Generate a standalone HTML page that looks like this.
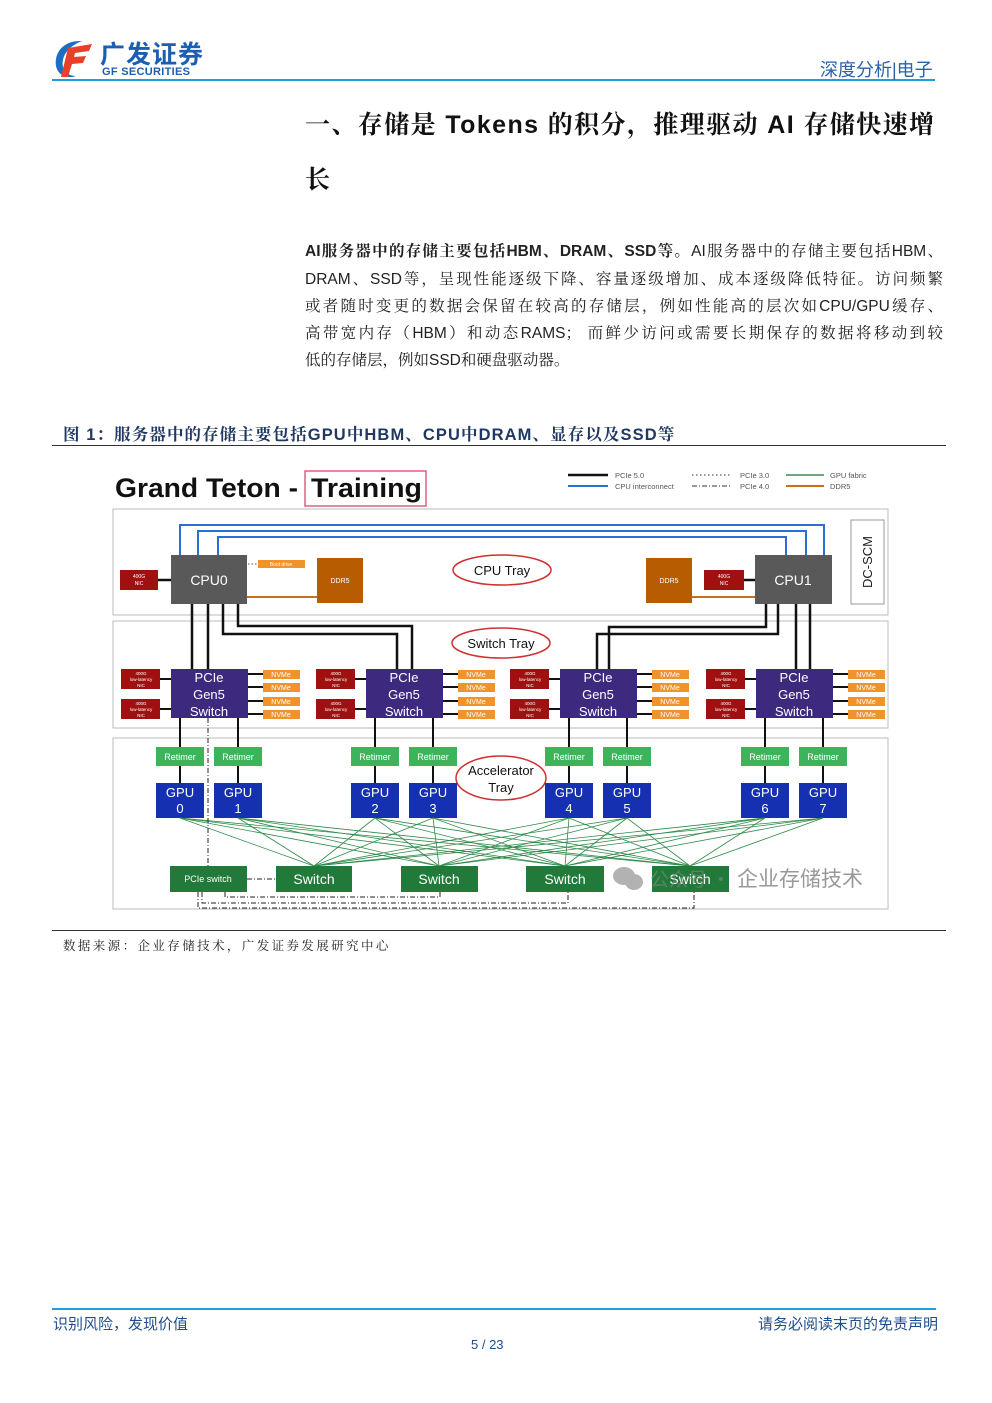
<!DOCTYPE html>
<html><head><meta charset="utf-8">
<style>
body{margin:0;background:#fff;}
#p{position:relative;width:992px;height:1403px;overflow:hidden;background:#fff;font-family:"Liberation Sans","Noto Sans CJK SC",sans-serif;}
.a{position:absolute;white-space:nowrap;}
.para{position:absolute;left:305px;width:638px;font-family:"Liberation Sans","Noto Serif CJK SC",serif;font-size:15.5px;color:#222;text-align:justify;text-align-last:justify;white-space:nowrap;line-height:20px;}
</style></head><body><div id="p">
<!-- header -->
<svg class="a" style="left:52px;top:38px" width="42" height="42" viewBox="0 0 42 42">
<path d="M30 3 C12 2 2 14 4 28 C6 38 16 41 24 38 C14 38 9 30 11 22 C13 12 22 6 30 3Z" fill="#1a6fc4"/>
<path d="M16 10 L40 6 L37 13 L23 15 L22 19 L34 18 L31 25 L20 26 L16 39 L9 39 Z" fill="#e8412a"/>
</svg>
<div class="a" style="left:100px;top:35px;font-size:25px;font-weight:bold;color:#1a5fb4;letter-spacing:1px;">广发证券</div>
<div class="a" style="left:102px;top:66px;font-size:11px;font-weight:bold;color:#1a5fb4;letter-spacing:0.3px;">GF SECURITIES</div>
<div class="a" style="left:52px;top:79px;width:883px;height:2px;background:#1ba1e2;"></div>
<div class="a" style="left:820px;top:56px;font-size:18px;color:#2a62a8;">深度分析|电子</div>

<div class="a" style="left:305px;top:105px;font-size:25px;font-weight:bold;color:#111;font-family:'Liberation Sans','Noto Serif CJK SC',serif;letter-spacing:1.4px;">一、存储是 Tokens 的积分，推理驱动 AI 存储快速增</div>
<div class="a" style="left:305px;top:160px;font-size:25px;font-weight:bold;color:#111;font-family:'Liberation Sans','Noto Serif CJK SC',serif;">长</div>

<div class="para" style="top:242px;"><b>AI服务器中的存储主要包括HBM、DRAM、SSD等。</b>AI服务器中的存储主要包括HBM、</div>
<div class="para" style="top:270px;">DRAM、SSD等，呈现性能逐级下降、容量逐级增加、成本逐级降低特征。访问频繁</div>
<div class="para" style="top:297px;">或者随时变更的数据会保留在较高的存储层，例如性能高的层次如CPU/GPU缓存、</div>
<div class="para" style="top:324px;">高带宽内存（HBM）和动态RAMS； 而鲜少访问或需要长期保存的数据将移动到较</div>
<div class="para" style="top:351px;text-align-last:left;width:auto;">低的存储层，例如SSD和硬盘驱动器。</div>

<div class="a" style="left:63px;top:421px;font-size:16.5px;font-weight:bold;color:#1f3864;font-family:'Liberation Sans','Noto Serif CJK SC',serif;letter-spacing:1.1px;">图 1：服务器中的存储主要包括GPU中HBM、CPU中DRAM、显存以及SSD等</div>
<div class="a" style="left:52px;top:445px;width:894px;height:1px;background:#333;"></div>
<div class="a" style="left:52px;top:930px;width:894px;height:1px;background:#333;"></div>
<div class="a" style="left:63px;top:936px;font-size:12.5px;color:#222;font-family:'Liberation Sans','Noto Serif CJK SC',serif;letter-spacing:2.4px;">数据来源：企业存储技术，广发证券发展研究中心</div>

<!-- diagram -->
<svg class="a" style="left:0;top:0" width="992" height="1000" font-family="Liberation Sans, sans-serif">
<text x="115" y="497" font-size="27" font-weight="bold" fill="#111" textLength="183" lengthAdjust="spacingAndGlyphs">Grand Teton -</text>
<text x="311" y="497" font-size="27" font-weight="bold" fill="#111" textLength="111" lengthAdjust="spacingAndGlyphs">Training</text>
<rect x="305" y="471" width="121" height="35" fill="none" stroke="#e06080" stroke-width="1.5"/>
<!-- legend -->
<g font-size="7.5" fill="#555">
<line x1="568" y1="475" x2="608" y2="475" stroke="#111" stroke-width="2.5"/>
<line x1="568" y1="486" x2="608" y2="486" stroke="#2a6fd6" stroke-width="2"/>
<text x="615" y="478">PCIe 5.0</text><text x="615" y="489">CPU interconnect</text>
<line x1="692" y1="475" x2="730" y2="475" stroke="#333" stroke-dasharray="1.5,2.5"/>
<line x1="692" y1="486" x2="730" y2="486" stroke="#333" stroke-dasharray="5,2,1,2"/>
<text x="740" y="478">PCIe 3.0</text><text x="740" y="489">PCIe 4.0</text>
<line x1="786" y1="475" x2="824" y2="475" stroke="#3a8a55" stroke-width="1.5"/>
<line x1="786" y1="486" x2="824" y2="486" stroke="#c8701a" stroke-width="2"/>
<text x="830" y="478">GPU fabric</text><text x="830" y="489">DDR5</text>
</g>
<!-- trays -->
<rect x="113" y="509" width="775" height="106" fill="none" stroke="#bbb"/>
<rect x="113" y="621" width="775" height="107" fill="none" stroke="#bbb"/>
<rect x="113" y="738" width="775" height="171" fill="none" stroke="#bbb"/>
<rect x="851" y="520" width="33" height="84" fill="#fff" stroke="#999"/>
<text x="872" y="562" font-size="13" fill="#222" text-anchor="middle" transform="rotate(-90 872 562)">DC-SCM</text>
<!-- blue -->
<g fill="none" stroke="#2a6fd6" stroke-width="2">
<polyline points="180,556 180,525 824,525 824,556"/>
<polyline points="198,556 198,531 806,531 806,556"/>
<polyline points="218,556 218,537 786,537 786,556"/>
</g>
<!-- black PCIe links -->
<g fill="none" stroke="#111" stroke-width="2.5">
<line x1="192" y1="604" x2="192" y2="669"/><line x1="208" y1="604" x2="208" y2="669"/>
<polyline points="223,604 223,634 397,634 397,669"/>
<polyline points="238,604 238,626 412,626 412,669"/>
<line x1="796" y1="604" x2="796" y2="669"/><line x1="810" y1="604" x2="810" y2="669"/>
<polyline points="766,604 766,627 609,627 609,669"/>
<polyline points="778,604 778,634 597,634 597,669"/>
<line x1="158" y1="580" x2="171" y2="580"/><line x1="744" y1="580" x2="755" y2="580"/>
</g>
<line x1="247" y1="597" x2="317" y2="597" stroke="#c8701a" stroke-width="2"/>
<line x1="692" y1="597" x2="755" y2="597" stroke="#c8701a" stroke-width="2"/>
<line x1="248" y1="564" x2="258" y2="564" stroke="#555" stroke-dasharray="1.5,2"/>
<rect x="171" y="555" width="76" height="49" fill="#595959"/>
<rect x="755" y="555" width="77" height="49" fill="#595959"/>
<text x="209" y="585" font-size="14" fill="#fff" text-anchor="middle">CPU0</text>
<text x="793" y="585" font-size="14" fill="#fff" text-anchor="middle">CPU1</text>
<rect x="120" y="570" width="38" height="20" fill="#a01010"/>
<rect x="704" y="570" width="40" height="20" fill="#a01010"/>
<g font-size="5" fill="#fff" text-anchor="middle"><text x="139" y="578">400G</text><text x="139" y="585">NIC</text><text x="724" y="578">400G</text><text x="724" y="585">NIC</text></g>
<rect x="258" y="560" width="47" height="8" fill="#f0932b"/>
<text x="281" y="566" font-size="5" fill="#fff" text-anchor="middle">Boot drive</text>
<rect x="317" y="558" width="46" height="45" fill="#b85c00"/>
<rect x="646" y="558" width="46" height="45" fill="#b85c00"/>
<text x="340" y="583" font-size="7" fill="#fff" text-anchor="middle">DDR5</text>
<text x="669" y="583" font-size="7" fill="#fff" text-anchor="middle">DDR5</text>
<!-- ellipses -->
<g fill="#fff" stroke="#d03030" stroke-width="1.5">
<ellipse cx="502" cy="570" rx="49" ry="15"/><ellipse cx="501" cy="643" rx="49" ry="15"/><ellipse cx="501" cy="778" rx="45" ry="22"/>
</g>
<g font-size="13" fill="#111" text-anchor="middle">
<text x="502" y="575">CPU Tray</text><text x="501" y="648">Switch Tray</text>
<text x="501" y="775">Accelerator</text><text x="501" y="792">Tray</text>
</g>
<!-- switch groups -->
<defs>
<g id="grp">
<g stroke="#111" stroke-width="2">
<line x1="-12" y1="10" x2="0" y2="10"/><line x1="-12" y1="40" x2="0" y2="40"/>
<line x1="77" y1="5" x2="92" y2="5"/><line x1="77" y1="18" x2="92" y2="18"/><line x1="77" y1="32" x2="92" y2="32"/><line x1="77" y1="45" x2="92" y2="45"/>
<line x1="9" y1="49" x2="9" y2="114"/><line x1="67" y1="49" x2="67" y2="114"/>
</g>
<rect x="-50" y="0" width="39" height="20" fill="#a01010"/><rect x="-50" y="30" width="39" height="20" fill="#a01010"/>
<g font-size="4.5" fill="#fff" text-anchor="middle">
<text x="-30" y="6">400G</text><text x="-30" y="12">low-latency</text><text x="-30" y="18">NIC</text>
<text x="-30" y="36">400G</text><text x="-30" y="42">low-latency</text><text x="-30" y="48">NIC</text></g>
<rect x="0" y="0" width="77" height="49" fill="#3d2a7e"/>
<g font-size="13" fill="#fff" text-anchor="middle"><text x="38" y="13">PCIe</text><text x="38" y="30">Gen5</text><text x="38" y="47">Switch</text></g>
<g fill="#f0932b"><rect x="92" y="1" width="37" height="9"/><rect x="92" y="14" width="37" height="9"/><rect x="92" y="28" width="37" height="9"/><rect x="92" y="41" width="37" height="9"/></g>
<g font-size="7" fill="#fff" text-anchor="middle"><text x="110" y="8">NVMe</text><text x="110" y="21">NVMe</text><text x="110" y="35">NVMe</text><text x="110" y="48">NVMe</text></g>
<rect x="-15" y="78" width="48" height="19" fill="#3cb55a"/><rect x="43" y="78" width="48" height="19" fill="#3cb55a"/>
<g font-size="9" fill="#fff" text-anchor="middle"><text x="9" y="91">Retimer</text><text x="67" y="91">Retimer</text></g>
<rect x="-15" y="114" width="48" height="35" fill="#1530b0"/><rect x="43" y="114" width="48" height="35" fill="#1530b0"/>
<g font-size="13" fill="#fff" text-anchor="middle"><text x="9" y="128">GPU</text><text x="67" y="128">GPU</text></g>
</g>
</defs>
<use href="#grp" x="171" y="669"/><use href="#grp" x="366" y="669"/><use href="#grp" x="560" y="669"/><use href="#grp" x="756" y="669"/>
<g font-size="13" fill="#fff" text-anchor="middle">
<text x="180" y="813">0</text><text x="238" y="813">1</text><text x="375" y="813">2</text><text x="433" y="813">3</text>
<text x="569" y="813">4</text><text x="627" y="813">5</text><text x="765" y="813">6</text><text x="823" y="813">7</text></g>
<!-- green fabric -->
<g stroke="#2f8a4a" stroke-width="0.8">
<line x1="180" y1="818" x2="314" y2="866"/><line x1="180" y1="818" x2="439" y2="866"/><line x1="180" y1="818" x2="565" y2="866"/><line x1="180" y1="818" x2="690" y2="866"/>
<line x1="238" y1="818" x2="314" y2="866"/><line x1="238" y1="818" x2="439" y2="866"/><line x1="238" y1="818" x2="565" y2="866"/><line x1="238" y1="818" x2="690" y2="866"/>
<line x1="375" y1="818" x2="314" y2="866"/><line x1="375" y1="818" x2="439" y2="866"/><line x1="375" y1="818" x2="565" y2="866"/><line x1="375" y1="818" x2="690" y2="866"/>
<line x1="433" y1="818" x2="314" y2="866"/><line x1="433" y1="818" x2="439" y2="866"/><line x1="433" y1="818" x2="565" y2="866"/><line x1="433" y1="818" x2="690" y2="866"/>
<line x1="569" y1="818" x2="314" y2="866"/><line x1="569" y1="818" x2="439" y2="866"/><line x1="569" y1="818" x2="565" y2="866"/><line x1="569" y1="818" x2="690" y2="866"/>
<line x1="627" y1="818" x2="314" y2="866"/><line x1="627" y1="818" x2="439" y2="866"/><line x1="627" y1="818" x2="565" y2="866"/><line x1="627" y1="818" x2="690" y2="866"/>
<line x1="765" y1="818" x2="314" y2="866"/><line x1="765" y1="818" x2="439" y2="866"/><line x1="765" y1="818" x2="565" y2="866"/><line x1="765" y1="818" x2="690" y2="866"/>
<line x1="823" y1="818" x2="314" y2="866"/><line x1="823" y1="818" x2="439" y2="866"/><line x1="823" y1="818" x2="565" y2="866"/><line x1="823" y1="818" x2="690" y2="866"/>
</g>
<!-- dashed -->
<g fill="none" stroke="#222" stroke-width="1" stroke-dasharray="5,2,1,2">
<line x1="208" y1="718" x2="208" y2="866"/>
<line x1="247" y1="879" x2="276" y2="879"/>
<polyline points="225,892 225,897 440,897 440,892"/>
<polyline points="202,892 202,903 568,903 568,892"/>
<polyline points="198,892 198,908 694,908 694,892"/>
</g>
<rect x="170" y="866" width="77" height="26" fill="#217a3a"/>
<text x="208" y="882" font-size="9" fill="#fff" text-anchor="middle">PCIe switch</text>
<g fill="#217a3a"><rect x="276" y="866" width="76" height="26"/><rect x="401" y="866" width="77" height="26"/><rect x="526" y="866" width="78" height="26"/><rect x="652" y="866" width="77" height="26"/></g>
<g font-size="14" fill="#fff" text-anchor="middle"><text x="314" y="884">Switch</text><text x="439" y="884">Switch</text><text x="565" y="884">Switch</text><text x="690" y="884">Switch</text></g>
<!-- watermark -->
<g fill="#999" opacity="0.75">
<ellipse cx="624" cy="876" rx="11" ry="9"/><ellipse cx="634" cy="882" rx="9" ry="8"/>
</g>
<text x="650" y="886" font-size="19" fill="#888" opacity="0.6" font-family="Noto Sans CJK SC, sans-serif">公众号 ·</text>
<text x="737" y="886" font-size="21" fill="#999" font-family="Noto Sans CJK SC, sans-serif">企业存储技术</text>
</svg>

<!-- footer -->
<div class="a" style="left:52px;top:1308px;width:884px;height:2px;background:#1ba1e2;"></div>
<div class="a" style="left:53px;top:1313px;font-size:15px;color:#1f4e8c;">识别风险，发现价值</div>
<div class="a" style="left:758px;top:1313px;font-size:15px;color:#1f4e8c;">请务必阅读末页的免责声明</div>
<div class="a" style="left:471px;top:1337px;font-size:13px;color:#1f4e8c;">5 / 23</div>
</div></body></html>
